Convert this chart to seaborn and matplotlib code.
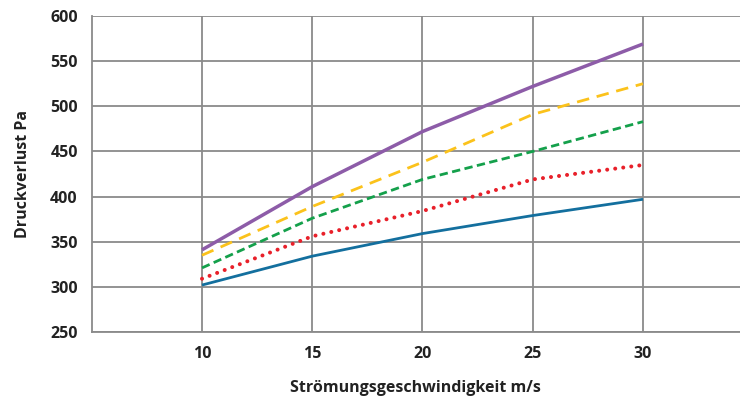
import matplotlib
matplotlib.use("Agg")
import matplotlib.pyplot as plt
import seaborn as sns
import pandas as pd

# Daten
geschwindigkeit = [10, 15, 20, 25, 30]
kurve_blau = [302, 334, 359, 379, 397]
kurve_rot = [309, 356, 384, 419, 435]
kurve_gruen = [321, 376, 419, 450, 483]
kurve_gelb = [335, 389, 438, 491, 525]
kurve_lila = [341, 411, 472, 522, 569]

namen = ["blau", "rot", "gruen", "gelb", "lila"]
werte = [kurve_blau, kurve_rot, kurve_gruen, kurve_gelb, kurve_lila]

rows = []
for name, ys in zip(namen, werte):
    for x, y in zip(geschwindigkeit, ys):
        rows.append({"v": x, "dp": y, "kurve": name})
df = pd.DataFrame(rows)

farben = {"blau": "#136f9e", "rot": "#e8202a", "gruen": "#14a04b",
          "gelb": "#fbc21b", "lila": "#8d5ca8"}
striche = {"blau": "", "rot": (0.01, 2.0), "gruen": (3, 1.6),
           "gelb": (4.5, 2.8), "lila": ""}

sns.set_style("white")
plt.rcParams['font.family'] = ['Open Sans', 'DejaVu Sans']

fig = plt.figure(figsize=(7.4, 4.0), dpi=100)
ax = fig.add_axes([0.124, 0.17, 0.876, 0.79])

sns.lineplot(data=df, x="v", y="dp", hue="kurve", style="kurve",
             palette=farben, dashes=striche, linewidth=2.0,
             legend=False, ax=ax)
linien = ax.get_lines()
for line in linien:
    line.set_solid_capstyle("butt")
# rote Linie als runde Punkte
linien[1].set_linewidth(2.9)
linien[1].set_dash_capstyle("round")
linien[4].set_linewidth(2.5)

ax.set_xlim(5, 34.4)
ax.set_ylim(250, 600)
ax.set_xticks([10, 15, 20, 25, 30])
ax.set_yticks(range(250, 601, 50))
ax.grid(True, color="#8a8a8a", linewidth=1.3)
ax.set_axisbelow(True)

for s in ["top", "right"]:
    ax.spines[s].set_visible(False)
for s in ["left", "bottom"]:
    ax.spines[s].set_color("#8a8a8a")
    ax.spines[s].set_linewidth(1.3)

ax.tick_params(axis="y", length=4, width=1.0, color="#8a8a8a", pad=6,
               labelsize=11.5, labelcolor="#222222")
ax.tick_params(axis="x", length=0, pad=10, labelsize=11.5, labelcolor="#222222")
for lab in ax.get_xticklabels() + ax.get_yticklabels():
    lab.set_fontweight("bold")

ax.set_xlabel("Strömungsgeschwindigkeit m/s", fontsize=11.5, fontweight="bold",
              color="#222222", labelpad=13)
ax.set_ylabel("Druckverlust Pa", fontsize=11.5, fontweight="bold",
              color="#222222", labelpad=14)

fig.savefig("out.png", dpi=100)
